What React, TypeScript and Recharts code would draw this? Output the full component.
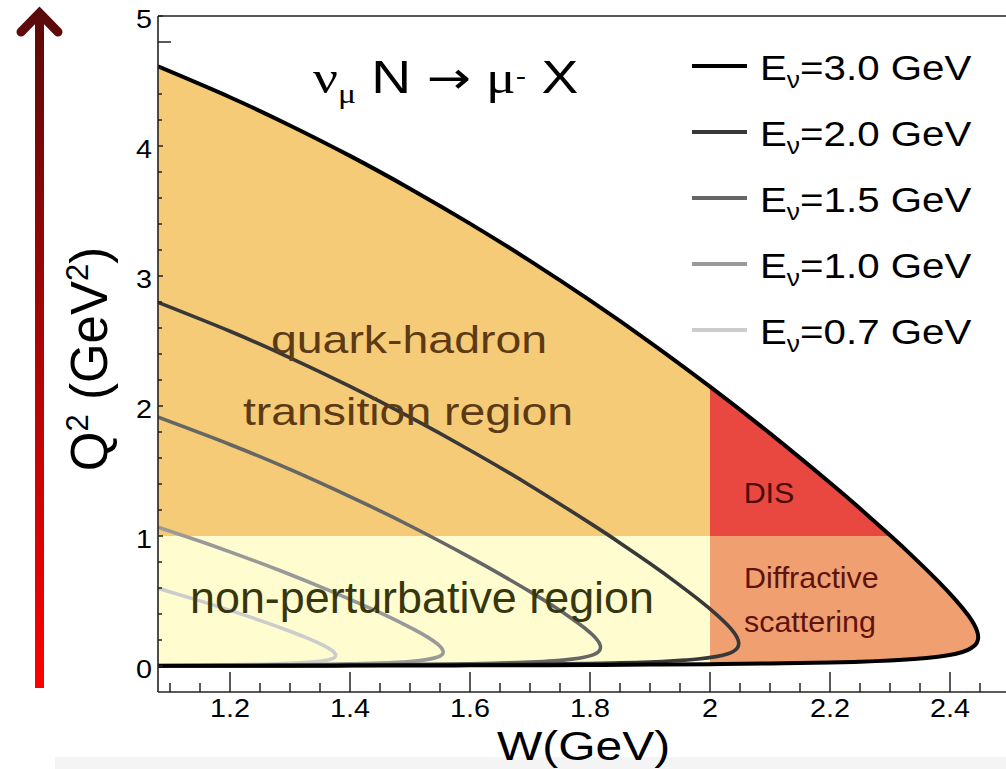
import React from 'react';
import { ComposedChart, Line, Area, XAxis, YAxis, Legend, Customized, ReferenceLine } from 'recharts';

const SANS = '"Liberation Sans", Arial, Helvetica, sans-serif';
const SERIF = '"Liberation Serif", "Times New Roman", serif';

// Kinematic limits of Q² versus W for each neutrino energy.
// Upper branch (max Q²) and lower branch (min Q²) share the same W grid.
const w30 = [1.08, 1.2, 1.3, 1.4, 1.5, 1.6, 1.7, 1.8, 1.9, 2.0, 2.1, 2.2, 2.25, 2.3, 2.34, 2.38, 2.41, 2.43, 2.44, 2.445, 2.447];
const q2max30 = [4.612, 4.375, 4.158, 3.924, 3.672, 3.403, 3.116, 2.812, 2.49, 2.149, 1.789, 1.409, 1.211, 1.005, 0.834, 0.653, 0.505, 0.392, 0.321, 0.27, 0.222];
const q2min30 = [0.001, 0.001, 0.002, 0.003, 0.004, 0.005, 0.006, 0.008, 0.011, 0.014, 0.019, 0.027, 0.033, 0.042, 0.053, 0.071, 0.094, 0.124, 0.153, 0.182, 0.222];

const w20 = [1.08, 1.2, 1.3, 1.4, 1.5, 1.6, 1.7, 1.8, 1.85, 1.9, 1.94, 1.98, 2.01, 2.03, 2.04, 2.045, 2.048];
const q2max20 = [2.797, 2.575, 2.371, 2.151, 1.914, 1.66, 1.389, 1.099, 0.947, 0.788, 0.655, 0.514, 0.399, 0.311, 0.257, 0.22, 0.173];
const q2min20 = [0.001, 0.002, 0.003, 0.005, 0.007, 0.009, 0.013, 0.019, 0.024, 0.031, 0.04, 0.054, 0.072, 0.094, 0.116, 0.136, 0.173];

const w15 = [1.08, 1.2, 1.3, 1.4, 1.5, 1.6, 1.65, 1.7, 1.74, 1.77, 1.79, 1.805, 1.812, 1.8155, 1.8175];
const q2max15 = [1.914, 1.704, 1.512, 1.303, 1.079, 0.836, 0.707, 0.572, 0.457, 0.364, 0.296, 0.236, 0.2, 0.176, 0.144];
const q2min15 = [0.001, 0.003, 0.005, 0.007, 0.011, 0.017, 0.022, 0.03, 0.04, 0.053, 0.067, 0.086, 0.102, 0.117, 0.144];

const w10 = [1.08, 1.15, 1.2, 1.25, 1.3, 1.35, 1.4, 1.45, 1.5, 1.53, 1.545, 1.552, 1.5555];
const q2max10 = [1.068, 0.96, 0.878, 0.793, 0.704, 0.611, 0.513, 0.41, 0.297, 0.22, 0.172, 0.142, 0.108];
const q2min10 = [0.002, 0.004, 0.005, 0.007, 0.009, 0.012, 0.016, 0.023, 0.035, 0.051, 0.067, 0.082, 0.108];

const w07 = [1.08, 1.15, 1.2, 1.25, 1.3, 1.33, 1.355, 1.37, 1.374, 1.3763];
const q2max07 = [0.598, 0.501, 0.428, 0.351, 0.267, 0.212, 0.16, 0.119, 0.1035, 0.083];
const q2min07 = [0.003, 0.006, 0.009, 0.013, 0.02, 0.028, 0.04, 0.056, 0.0655, 0.083];

const energies = ['3.0', '2.0', '1.5', '1.0', '0.7'];
const lineColors = ['#000000', '#383838', '#666666', '#999999', '#cccccc'];

// Region boundaries
const W_CUT = 2.0;
const Q2_CUT = 1.0;

// Axis ticks
const xMajorTicks = [1.2, 1.4, 1.6, 1.8, 2.0, 2.2, 2.4];
const xMinorTicks = [1.1, 1.15, 1.25, 1.3, 1.35, 1.45, 1.5, 1.55, 1.65, 1.7, 1.75, 1.85, 1.9, 1.95, 2.05, 2.1, 2.15, 2.25, 2.3, 2.35, 2.45];
const yMajorTicks = [0, 1, 2, 3, 4, 5];
const yMinorTicks = [0.2, 0.4, 0.6, 0.8, 1.2, 1.4, 1.6, 1.8, 2.2, 2.4, 2.6, 2.8, 3.2, 3.4, 3.6, 3.8, 4.2, 4.4, 4.6, 4.8];
const yLongTicks = [4.8];

type Pt = { w: number; q2: number };

// Closed contour: along the upper branch, then back along the lower branch
function contour(w: number[], hi: number[], lo: number[]): Pt[] {
  const pts: Pt[] = w.map((x, i) => ({ w: x, q2: hi[i] }));
  for (let i = w.length - 2; i >= 0; i--) pts.push({ w: w[i], q2: lo[i] });
  return pts;
}

const curves = [
  contour(w30, q2max30, q2min30),
  contour(w20, q2max20, q2min20),
  contour(w15, q2max15, q2min15),
  contour(w10, q2max10, q2min10),
  contour(w07, q2max07, q2min07),
];

// Filled regions inside the E=3.0 GeV boundary
const regionRows = w30.map((w, i) => {
  const hi = q2max30[i];
  const lo = q2min30[i];
  return {
    w,
    nonPert: w <= W_CUT ? [lo, Q2_CUT] : null,
    transition: w <= W_CUT ? [Q2_CUT, hi] : null,
    dis: w >= W_CUT && hi >= Q2_CUT ? [Q2_CUT, hi] : null,
    diffractive: w >= W_CUT ? [lo, Math.min(hi, Q2_CUT)] : null,
  };
});

const xTicks = [...xMajorTicks, ...xMinorTicks].sort((a, b) => a - b);
const yTicks = [...yMajorTicks, ...yMinorTicks].sort((a, b) => a - b);
const near = (list: number[], v: number) => list.some((t) => Math.abs(t - v) < 1e-6);
const fmt = (v: number) => String(Number(v.toFixed(2)));

const AXIS = '#222';

const XTick = (props: any) => {
  const { x, y, payload } = props;
  const v = payload.value;
  const major = near(xMajorTicks, v);
  return (
    <g>
      <line x1={x} x2={x} y1={y} y2={y - (major ? 20 : 9)} stroke={AXIS} strokeWidth={1.5} />
      {major && (
        <g transform={`translate(${x},${y + 25}) scale(1.15,1)`}>
          <text x={0} y={0} textAnchor="middle" fontSize={25} fontFamily={SANS} fill="#000">
            {fmt(v)}
          </text>
        </g>
      )}
    </g>
  );
};

const YTick = (props: any) => {
  const { x, y, payload } = props;
  const v = payload.value;
  const major = near(yMajorTicks, v);
  const len = near(yLongTicks, v) ? 13 : major ? 5 : 4;
  return (
    <g>
      <line x1={x} x2={x + len} y1={y} y2={y} stroke={AXIS} strokeWidth={1.5} />
      {major && (
        <g transform={`translate(${x - 6},${y + 12}) scale(1.15,1)`}>
          <text x={0} y={0} textAnchor="end" fontSize={25} fontFamily={SANS} fill="#000">
            {fmt(v)}
          </text>
        </g>
      )}
    </g>
  );
};

const renderLegend = (props: any) => {
  const items = [...(props.payload || [])]
    .filter((p: any) => p.type !== 'none')
    .sort((a: any, b: any) => parseFloat(b.value) - parseFloat(a.value));
  return (
    <svg width={326} height={330} style={{ display: 'block', overflow: 'visible' }}>
      {items.map((it: any, i: number) => {
        const cy = 36 + i * 66;
        return (
          <g key={it.value}>
            <line x1={12} x2={67} y1={cy} y2={cy} stroke={it.color} strokeWidth={4} />
            <g transform={`translate(80,${cy + 14}) scale(1.15,1)`}>
              <text x={0} y={0} fontFamily={SANS} fontSize={35} fill="#000">
                E
                <tspan fontSize={23} dy={8}>ν</tspan>
                <tspan dy={-8}>={it.value} GeV</tspan>
              </text>
            </g>
          </g>
        );
      })}
    </svg>
  );
};

type STextProps = {
  x: number;
  y: number;
  size: number;
  sx?: number;
  fill?: string;
  anchor?: 'start' | 'middle' | 'end';
  family?: string;
  children: React.ReactNode;
};

const SText = ({ x, y, size, sx = 1, fill = '#000', anchor = 'start', family = SANS, children }: STextProps) => (
  <g transform={`translate(${x},${y}) scale(${sx},1)`}>
    <text x={0} y={0} fontSize={size} fill={fill} textAnchor={anchor} fontFamily={family}>
      {children}
    </text>
  </g>
);

// Arrow, axis titles and reaction label, drawn inside the chart surface
const Decorations = () => (
  <g>
    <rect x={55} y={757} width={960} height={12} fill="#f4f4f4" />
    <defs>
      <linearGradient id="q2Arrow" x1="0" y1="688" x2="0" y2="10" gradientUnits="userSpaceOnUse">
        <stop offset="0" stopColor="#ff0000" />
        <stop offset="1" stopColor="#5a0a0a" />
      </linearGradient>
    </defs>
    <line x1={39.5} y1={688} x2={39.5} y2={18} stroke="url(#q2Arrow)" strokeWidth={9} />
    <polyline
      points="21,32 39.5,13 58,32"
      fill="none"
      stroke="url(#q2Arrow)"
      strokeWidth={9}
      strokeLinecap="round"
      strokeLinejoin="miter"
    />
    <g transform="translate(107,359) rotate(-90)">
      <text x={0} y={0} textAnchor="middle" fontSize={51} fontFamily={SANS} fill="#000">
        Q<tspan fontSize={31} dy={-19}>2</tspan>
        <tspan dy={19}> (GeV</tspan>
        <tspan fontSize={31} dy={-19}>2</tspan>
        <tspan dy={19}>)</tspan>
      </text>
    </g>
    <SText x={497} y={760} size={41} sx={1.17}>W(GeV)</SText>
    <g transform="translate(313,93) scale(1.2,1)">
      <text x={0} y={0} fontSize={46} fontFamily={SANS} fill="#000">
        <tspan fontFamily={SERIF}>ν</tspan>
        <tspan fontFamily={SERIF} fontSize={28} dy={10}>μ</tspan>
        <tspan dy={-10}> N </tspan>
        <tspan fontFamily='"DejaVu Sans", sans-serif' fontSize={44}>→</tspan>
        <tspan> </tspan>
        <tspan fontFamily={SERIF}>μ</tspan>
        <tspan fontSize={26} dy={-8}>-</tspan>
        <tspan dy={8}> X</tspan>
      </text>
    </g>
  </g>
);

// Names of the kinematic regions, laid over the filled areas
const RegionNames = () => (
  <svg
    width={1006}
    height={769}
    style={{ position: 'absolute', left: 0, top: 0, pointerEvents: 'none', overflow: 'visible' }}
  >
    <SText x={409} y={353} size={39} sx={1.19} fill="#5c3a14" anchor="middle">quark-hadron</SText>
    <SText x={408} y={425} size={39} sx={1.19} fill="#5c3a14" anchor="middle">transition region</SText>
    <SText x={422} y={613} size={44} sx={1.02} fill="#36360f" anchor="middle">non-perturbative region</SText>
    <SText x={769} y={503} size={29} sx={1.05} fill="#4a0c08" anchor="middle">DIS</SText>
    <SText x={744} y={588} size={29} sx={1.05} fill="#5e130d">Diffractive</SText>
    <SText x={744} y={632} size={29} sx={1.05} fill="#5e130d">scattering</SText>
  </svg>
);

export default function App() {
  return (
    <div
      style={{
        position: 'fixed',
        left: 0,
        top: 0,
        width: 1006,
        height: 769,
        overflow: 'hidden',
        background: '#ffffff',
      }}
    >
      <ComposedChart width={1040} height={769} data={regionRows} margin={{ top: 16, right: 30, bottom: 76, left: 157 }}>
        <XAxis
          dataKey="w"
          type="number"
          domain={[1.08, 2.5]}
          allowDataOverflow
          ticks={xTicks}
          interval={0}
          tick={(p: any) => <XTick {...p} />}
          tickLine={false}
          tickSize={0}
          tickMargin={0}
          height={1}
          axisLine={{ stroke: AXIS, strokeWidth: 1.6 }}
        />
        <YAxis
          type="number"
          domain={[-0.2, 5]}
          allowDataOverflow
          ticks={yTicks}
          interval={0}
          tick={(p: any) => <YTick {...p} />}
          tickLine={false}
          tickSize={0}
          tickMargin={0}
          width={1}
          axisLine={{ stroke: AXIS, strokeWidth: 1.6 }}
        />
        <ReferenceLine y={5} stroke={AXIS} strokeWidth={1.6} />

        <Area type="linear" dataKey="nonPert" fill="#fffccf" fillOpacity={1} stroke="none" legendType="none" activeDot={false} isAnimationActive={false} />
        <Area type="linear" dataKey="transition" fill="#f5cb77" fillOpacity={1} stroke="none" legendType="none" activeDot={false} isAnimationActive={false} />
        <Area type="linear" dataKey="dis" fill="#e8483f" fillOpacity={1} stroke="none" legendType="none" activeDot={false} isAnimationActive={false} />
        <Area type="linear" dataKey="diffractive" fill="#f09f71" fillOpacity={1} stroke="none" legendType="none" activeDot={false} isAnimationActive={false} />

        <Customized component={Decorations} />

        {curves
          .map((pts, i) => ({ pts, i }))
          .reverse()
          .map(({ pts, i }) => (
            <Line
              key={energies[i]}
              name={energies[i]}
              data={pts}
              dataKey="q2"
              type="natural"
              stroke={lineColors[i]}
              strokeWidth={i === 0 ? 4 : 3.6}
              dot={false}
              activeDot={false}
              isAnimationActive={false}
            />
          ))}

        <Legend
          layout="horizontal"
          verticalAlign="middle"
          align="center"
          wrapperStyle={{ left: 680, top: 30, width: 326, height: 330 }}
          content={renderLegend}
        />
      </ComposedChart>
      <RegionNames />
    </div>
  );
}
